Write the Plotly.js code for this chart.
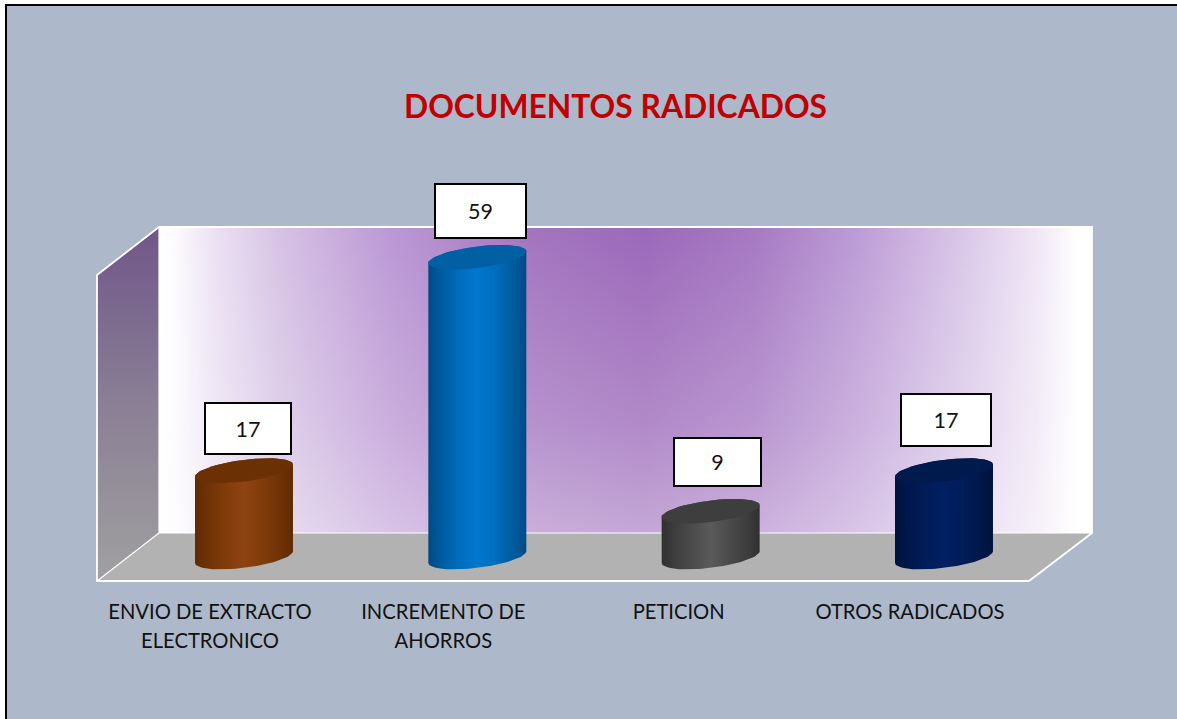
<!DOCTYPE html>
<html>
<head>
<meta charset="utf-8">
<script src="https://cdn.plot.ly/plotly-3.0.1.min.js"></script>
<style>html,body{margin:0;padding:0;background:#fff;overflow:hidden}#chart{width:1177px;height:719px}</style>
</head>
<body>
<div id="chart"></div>
<script>
// ---- data ----
var chartTitle = 'DOCUMENTOS RADICADOS';
var categories = ['ENVIO DE EXTRACTO<br>ELECTRONICO', 'INCREMENTO DE<br>AHORROS', 'PETICION', 'OTROS RADICADOS'];
var values = [17, 59, 9, 17];

// ---- styling ----
var bodyColors = [
  [[0,'#5f2b02'],[0.12,'#6e3205'],[0.3,'#803b0b'],[0.5,'#8e4312'],[0.7,'#803b0b'],[0.88,'#6e3205'],[1,'#5f2b02']],
  [[0,'#004a85'],[0.12,'#005a9c'],[0.3,'#006cbb'],[0.5,'#0078cf'],[0.7,'#006cbb'],[0.88,'#005a9c'],[1,'#004a85']],
  [[0,'#303030'],[0.12,'#3c3c3c'],[0.3,'#4a4a4a'],[0.5,'#5a5a5a'],[0.7,'#4a4a4a'],[0.88,'#3c3c3c'],[1,'#303030']],
  [[0,'#00133e'],[0.12,'#00174a'],[0.3,'#001c58'],[0.5,'#002063'],[0.7,'#001c58'],[0.88,'#00174a'],[1,'#00133e']]
];
var capColors = ['#6b3104', '#0060a3', '#3e3e3e', '#001a4e'];
var labelDx = [4, 3.5, 7, 2];
var labelDy = [-42.5, -46, -49.5, -50.5];
var labelW = [88, 93, 89, 92];
var labelH = [53, 56, 50, 54];
var tickDx = [-34, -34, -32, -34];

// ---- scales: pixels of the frame to axis units ----
var W = 1177, H = 719, plotBottom = 596;
var cat0 = 244, catStep = 233.33, base = 557, unit = 5.08;
function X(p) { return (p - cat0) / catStep; }
function Y(p) { return (base - p) / unit; }
function PX(p) { return p / W; }
function PY(p) { return 1 - p / plotBottom; }

var traces = [];
function poly(pts, extra) {
  var t = {
    type: 'scatter', mode: 'lines', fill: 'toself', hoverinfo: 'skip', showlegend: false,
    x: pts.map(function (p) { return X(p[0]); }),
    y: pts.map(function (p) { return Y(p[1]); }),
    line: { width: 0, color: 'rgba(0,0,0,0)' }
  };
  for (var k in extra) t[k] = extra[k];
  traces.push(t);
}
function wire(pts, width) {
  traces.push({
    type: 'scatter', mode: 'lines', hoverinfo: 'skip', showlegend: false,
    x: pts.map(function (p) { return X(p[0]); }),
    y: pts.map(function (p) { return Y(p[1]); }),
    line: { width: width, color: '#ffffff' }
  });
}

// floor, back wall, side wall
var wall = [[159,227],[1092,227],[1092,533],[159,533],[159,227]];
poly([[97,581],[1029,581],[1092,533],[159,533],[97,581]], { fillcolor: '#b2b2b2' });
poly(wall, { fillgradient: { type: 'horizontal', colorscale: [
  [0,'#ffffff'],[0.02,'#fbf9fd'],[0.06,'#ebe1f3'],[0.13,'#d6c2e4'],[0.25,'#bb97d4'],[0.40,'#a274bf'],[0.52,'#9b68b9'],
  [0.64,'#a679c3'],[0.75,'#bd9cd6'],[0.86,'#d9c6e8'],[0.94,'#efe6f5'],[0.985,'#ffffff'],[1,'#ffffff']
] } });
poly(wall, { fillgradient: { type: 'vertical', colorscale: [
  [0,'rgba(255,255,255,0.42)'],[0.35,'rgba(255,255,255,0.22)'],[1,'rgba(255,255,255,0)']
] } });
poly([[97,275],[159,227],[159,533],[97,581],[97,275]], { fillgradient: { type: 'vertical', colorscale: [
  [0,'#a0a0a0'],[0.5,'#8a7f95'],[1,'#705688']
] } });
wire([[1029,581],[97,581],[97,275],[159,227],[1092,227],[1092,533],[1029,581]], 1.8);
wire([[159,227],[159,533],[1092,533]], 1.2);
wire([[97,581],[159,533]], 1.2);

// cylinders, drawn from the values
var halfW = 49, tilt = 6, depth = 10.8, steps = 36;
function ell(cx, cy, t) {
  return [cx + halfW * Math.cos(t), cy - tilt * Math.cos(t) - depth * Math.sin(t)];
}
values.forEach(function (v, i) {
  var cx = cat0 + i * catStep, topY = base - v * unit, body = [], cap = [], s;
  for (s = 0; s <= steps; s++) body.push(ell(cx, base, Math.PI + Math.PI * s / steps));
  for (s = 0; s <= steps; s++) body.push(ell(cx, topY, Math.PI * s / steps));
  body.push(body[0]);
  for (s = 0; s <= 2 * steps; s++) cap.push(ell(cx, topY, Math.PI * s / steps));
  poly(body, { fillgradient: { type: 'horizontal', colorscale: bodyColors[i] } });
  poly(cap, { fillcolor: capColors[i] });
});

var annotations = values.map(function (v, i) {
  return {
    x: i, y: v, xref: 'x', yref: 'y', xshift: labelDx[i], yshift: -labelDy[i],
    text: String(v), showarrow: false, align: 'center', valign: 'middle',
    width: labelW[i] - 4, height: labelH[i] - 4,
    bgcolor: '#ffffff', bordercolor: '#000000', borderwidth: 2, borderpad: 0,
    font: { family: 'Lato, sans-serif', size: 21.5, color: '#111111' }
  };
});

// tick lines are spaced by the outer font size, drawn at the inner one
function tickLine(label) {
  return label.split('<br>').map(function (line) {
    return '<span style="font-size:20.2px">' + line + '</span>';
  }).join('<br>');
}

var layout = {
  width: W, height: H,
  margin: { l: 0, r: 0, t: 0, b: H - plotBottom, pad: 0 },
  paper_bgcolor: '#adb9ca', plot_bgcolor: 'rgba(0,0,0,0)',
  showlegend: false,
  title: {
    text: '<b>' + chartTitle + '</b>', x: 615.5 / W, y: 1 - 107 / H, xanchor: 'center', yanchor: 'middle',
    xref: 'container', yref: 'container',
    font: { family: 'Lato, sans-serif', size: 31.8, color: '#c00000' }
  },
  xaxis: {
    range: [X(0), X(W)], showgrid: false, zeroline: false, showline: false, ticks: '',
    tickmode: 'array',
    tickvals: categories.map(function (c, i) { return i + tickDx[i] / catStep; }),
    ticktext: categories.map(tickLine), tickangle: 0, automargin: false,
    tickfont: { family: 'Lato, sans-serif', size: 22, color: '#111111' }
  },
  yaxis: { range: [Y(plotBottom), Y(0)], visible: false, fixedrange: true },
  annotations: annotations,
  shapes: [
    { type: 'rect', layer: 'below', xref: 'paper', yref: 'paper', x0: 0, x1: PX(5), y0: PY(H), y1: PY(0), fillcolor: '#ffffff', line: { width: 0 } },
    { type: 'rect', layer: 'below', xref: 'paper', yref: 'paper', x0: 0, x1: 1, y0: PY(4), y1: PY(0), fillcolor: '#ffffff', line: { width: 0 } },
    { type: 'rect', layer: 'below', xref: 'paper', yref: 'paper', x0: PX(5), x1: PX(7), y0: PY(H), y1: PY(4), fillcolor: '#000000', line: { width: 0 } },
    { type: 'rect', layer: 'below', xref: 'paper', yref: 'paper', x0: PX(5), x1: 1, y0: PY(6), y1: PY(4), fillcolor: '#000000', line: { width: 0 } }
  ]
};
Plotly.newPlot('chart', traces, layout, { displayModeBar: false, staticPlot: true });
</script>
</body>
</html>
